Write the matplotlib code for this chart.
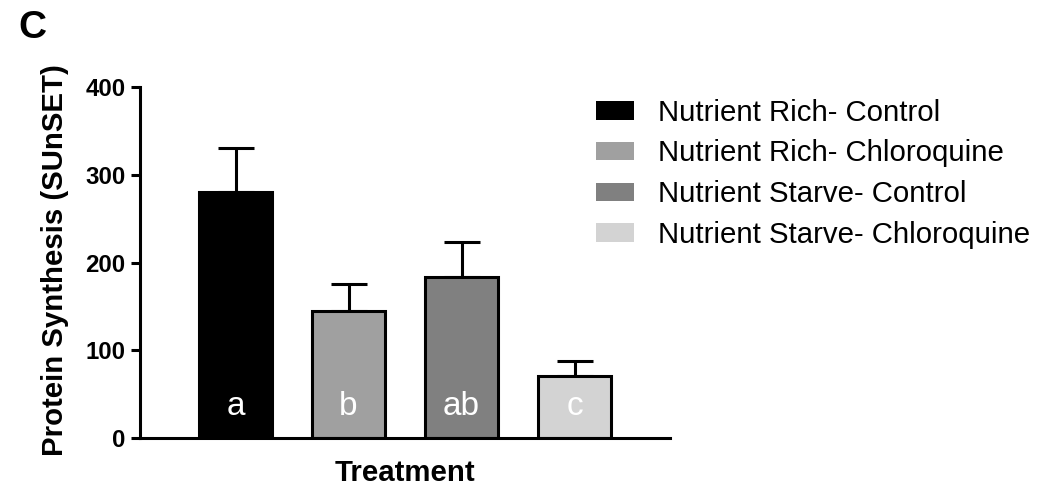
import matplotlib
matplotlib.use("Agg")
import matplotlib.pyplot as plt
from matplotlib.patches import Patch

plt.rcParams['font.family'] = ['Liberation Sans', 'DejaVu Sans']

categories = ["Nutrient Rich- Control", "Nutrient Rich- Chloroquine",
              "Nutrient Starve- Control", "Nutrient Starve- Chloroquine"]
means = [280, 145, 184, 71]
sem = [50, 31, 39, 17]
letters = ["a", "b", "ab", "c"]
colors = ["#000000", "#a0a0a0", "#808080", "#d3d3d3"]
yticks = [0, 100, 200, 300, 400]

fig = plt.figure(figsize=(10.38, 4.88), dpi=100)
ax = fig.add_axes([0.1349, 0.1018, 0.6455 - 0.1349, 0.8223 - 0.1018])

x = list(range(len(categories)))
ax.errorbar(x, means, yerr=[[0] * len(sem), sem], fmt='none', ecolor='black',
            elinewidth=2.2, capsize=13, capthick=2.2, zorder=1)
ax.bar(x, means, width=0.64, color=colors, edgecolor='black', linewidth=2.2, zorder=2)

for xi, lab in zip(x, letters):
    ax.text(xi, 26, lab, color='white', fontsize=24, ha='center', va='baseline', zorder=3)

ax.set_xlim(-0.845, 3.845)
ax.set_ylim(0, 400)
ax.set_yticks(yticks)
ax.set_yticklabels([str(t) for t in yticks], fontsize=17.3, fontweight='bold')
ax.set_xticks([])
for s in ['top', 'right']:
    ax.spines[s].set_visible(False)
for s in ['left', 'bottom']:
    ax.spines[s].set_linewidth(2.2)
ax.tick_params(axis='y', length=6.5, width=2.2, pad=4)

ax.set_ylabel("Protein Synthesis (SUnSET)", fontsize=21.2, fontweight='bold')
ax.yaxis.set_label_coords(-0.134, 0.507)
ax.set_xlabel("Treatment", fontsize=21.2, fontweight='bold', labelpad=15)

fig.text(0.031, 0.943, "C", fontsize=28, fontweight='bold', ha='center', va='center')

handles = [Patch(facecolor=c, edgecolor='none') for c in colors]
fig.legend(handles, categories, loc='upper left', bbox_to_anchor=(0.574, 0.7975),
           frameon=False, fontsize=21.2, handlelength=1.3, handleheight=0.59,
           handletextpad=0.8, labelspacing=0.43, borderpad=0, borderaxespad=0)

fig.savefig("out.png", dpi=100)
